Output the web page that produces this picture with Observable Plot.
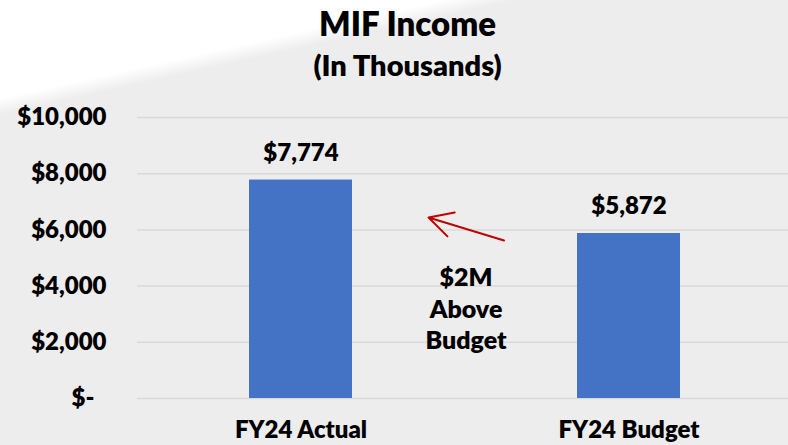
<!DOCTYPE html>
<html><head><meta charset="utf-8">
<script src="https://cdn.jsdelivr.net/npm/d3@7"></script>
<script src="https://cdn.jsdelivr.net/npm/@observablehq/plot@0.6"></script>
<style>
body{margin:0;}
#wrap{position:relative;width:788px;height:445px;overflow:hidden;background:linear-gradient(167.5deg,#fff 0px,#fff 96px,#ededed 112px,#ededed 100%);font-family:Lato,sans-serif;}
.t{position:absolute;left:27px;right:0;text-align:center;font-weight:800;color:#000;white-space:nowrap;}
#title{top:7px;font-size:33px;line-height:33px;}
#sub{top:50px;font-size:29px;line-height:29px;}
#chart{position:absolute;left:0;top:0;}
</style></head>
<body>
<div id="wrap">
<div id="chart"></div>
<div class="t" id="title">MIF Income</div>
<div class="t" id="sub">(In Thousands)</div>
</div>
<script>
const categories = ["FY24 Actual", "FY24 Budget"];
const values = [7774, 5872];
const yTicks = [0, 2000, 4000, 6000, 8000, 10000];
const noteLines = ["$2M", "Above", "Budget"];
const arrowFrom = {cat: "FY24 Budget", value: 4274};
const arrowTo = {cat: "FY24 Actual", value: 7818};

const data = categories.map((c, i) => ({cat: c, value: values[i]}));
const money = d => d === 0 ? "$-\u2002" : "$" + d3.format(",")(d);
const W = 800;

const chart = Plot.plot({
  width: 788, height: 445,
  marginTop: 117, marginBottom: 47, marginLeft: 137, marginRight: -4,
  style: {background: "transparent", fontFamily: "Lato, sans-serif", color: "#000", overflow: "visible"},
  x: {domain: categories, paddingInner: 0.687, paddingOuter: 0.34, align: 0.5, label: null},
  y: {domain: [0, 10000], label: null},
  marks: [
    Plot.gridY(yTicks, {stroke: "#d9d9d9", strokeOpacity: 1, strokeWidth: 1.5}),
    Plot.barY(data, {x: "cat", y: "value", fill: "#4472c4"}),
    Plot.text(data, {x: "cat", y: "value", text: d => money(d.value), dy: -27, fontSize: 24, fontWeight: W, fill: "#000"}),
    Plot.axisY({ticks: yTicks, tickSize: 0, tickPadding: 31, fontSize: 24, fontWeight: W, tickFormat: money}),
    Plot.axisX({tickSize: 0, tickPadding: 22, fontSize: 24, fontWeight: W}),
    Plot.arrow([{x1: arrowFrom.cat, y1: arrowFrom.value, x2: arrowTo.cat, y2: arrowTo.value}], {
      x1: "x1", y1: "y1", x2: "x2", y2: "y2",
      stroke: "#c00000", strokeWidth: 2, headLength: 20, headAngle: 56,
      insetStart: 130.6, insetEnd: 133.3
    }),
    Plot.text([noteLines.join("\n")], {frameAnchor: "middle", dx: 1, dy: 49.5, lineHeight: 1.26, fontSize: 25, fontWeight: W, fill: "#000"})
  ]
});
document.getElementById("chart").appendChild(chart);
</script>
</body></html>
